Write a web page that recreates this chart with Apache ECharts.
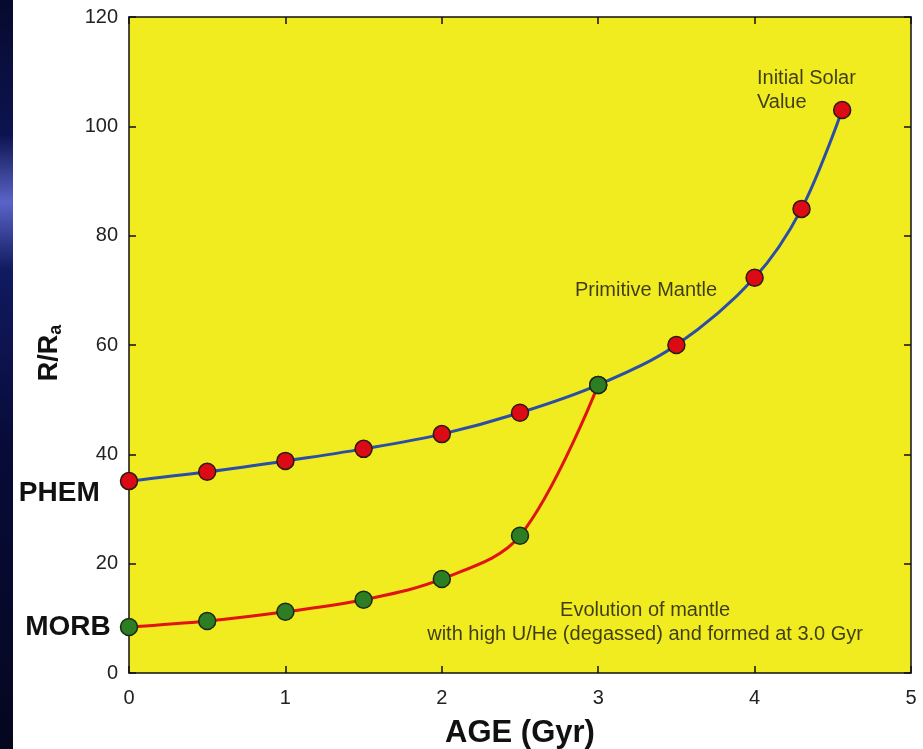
<!DOCTYPE html>
<html><head><meta charset="utf-8">
<script src="https://cdn.jsdelivr.net/npm/echarts@6/dist/echarts.min.js"></script>
<style>html,body{margin:0;padding:0;background:#fff}#c{width:923px;height:749px}</style>
</head><body><div id="c"></div>
<script>
var mantleAges = [0, 0.5, 1, 1.5, 2, 2.5, 3, 3.5, 4, 4.3, 4.56];
var mantleValues = [35.1, 36.8, 38.8, 41.0, 43.7, 47.6, 52.7, 60.0, 72.3, 84.9, 103.0];
var morbAges = [0, 0.5, 1, 1.5, 2, 2.5, 3];
var morbValues = [8.4, 9.5, 11.2, 13.4, 17.2, 25.1, 52.7];
var xTicks = [0, 1, 2, 3, 4, 5];
var yTicks = [0, 20, 40, 60, 80, 100, 120];
var notes = [
  {x: 4.015, y: 106.6, text: 'Initial Solar\nValue', align: 'left'},
  {x: 3.306, y: 69.9, text: 'Primitive Mantle', align: 'center'},
  {x: 3.30, y: 9.3, text: 'Evolution of mantle\nwith high U/He (degassed) and formed at 3.0 Gyr', align: 'center'}
];

function pairs(xs, ys){ return xs.map(function(x,i){ return [x, ys[i]]; }); }

var chart = echarts.init(document.getElementById('c'));
var font = 'Liberation Sans, Arial, sans-serif';
function axisBase(extra){
  return Object.assign({
    type: 'value', min: 0,
    axisLine: {show: true, onZero: false, lineStyle: {color: '#111', width: 1.5}},
    axisTick: {show: true, inside: true, length: 7, lineStyle: {color: '#111', width: 1.5}},
    splitLine: {show: false}
  }, extra);
}
var mantleData = pairs(mantleAges, mantleValues);
mantleData[0] = {value: mantleData[0], label: {show: true, position: 'left', distance: 20, offset: [0, 12], formatter: 'PHEM', fontFamily: font, fontWeight: 'bold', fontSize: 28, color: '#111'}};
var morbData = pairs(morbAges, morbValues);
morbData[0] = {value: morbData[0], label: {show: true, position: 'left', distance: 9, offset: [0, 0], formatter: 'MORB', fontFamily: font, fontWeight: 'bold', fontSize: 28, color: '#111'}};

chart.setOption({
  backgroundColor: '#ffffff',
  animation: false,
  graphic: [{
    type: 'rect', left: 0, top: 0, z: -10,
    shape: {width: 13, height: 749},
    style: {fill: new echarts.graphic.LinearGradient(0, 0, 0, 1, [
      {offset: 0, color: '#070a2e'}, {offset: 0.18, color: '#0c1450'}, {offset: 0.27, color: '#5a64c8'},
      {offset: 0.36, color: '#101a60'}, {offset: 0.6, color: '#080b38'}, {offset: 1, color: '#05071f'}])}
  }],
  grid: {left: 129, right: 12, top: 17, bottom: 76, show: true, backgroundColor: '#F1EC20', borderWidth: 0,
    containLabel: false, outerBoundsMode: 'none'},
  xAxis: [
    axisBase({max: 5, interval: 1, position: 'bottom',
      axisLabel: {fontFamily: font, fontSize: 20, color: '#222', margin: 15, customValues: xTicks},
      name: 'AGE (Gyr)', nameLocation: 'middle', nameGap: 45,
      nameTextStyle: {fontFamily: font, fontWeight: 'bold', fontSize: 31, color: '#111'}}),
    axisBase({max: 5, interval: 1, position: 'top', axisLabel: {show: false}})
  ],
  yAxis: [
    axisBase({max: 120, interval: 20, position: 'left',
      axisLabel: {fontFamily: font, fontSize: 20, color: '#222', margin: 11, customValues: yTicks},
      name: '{m|R/R}{s|a}', nameLocation: 'middle', nameGap: 64, nameRotate: 90,
      nameTextStyle: {padding: [0, 16, 0, 0], rich: {
        m: {fontFamily: font, fontWeight: 'bold', fontSize: 27, color: '#111'},
        s: {fontFamily: font, fontWeight: 'bold', fontSize: 18, color: '#111', padding: [12, 0, 0, 0]}
      }}}),
    axisBase({max: 120, interval: 20, position: 'right', axisLabel: {show: false}})
  ],
  series: [
    {type: 'line', data: mantleData, smooth: 0.35, z: 3,
      lineStyle: {color: '#2b4ea6', width: 3},
      symbol: 'circle', symbolSize: 17,
      itemStyle: {color: '#dc0a14', borderColor: '#2a1a10', borderWidth: 1.5}},
    {type: 'line', data: morbData, smooth: 0.35, z: 4,
      lineStyle: {color: '#e01414', width: 3},
      symbol: 'circle', symbolSize: 17,
      itemStyle: {color: '#2d7d24', borderColor: '#1a2a10', borderWidth: 1.5}},
    {type: 'scatter', symbolSize: 0, z: 5, silent: true,
      data: notes.map(function(n){ return {value: [n.x, n.y], label: {show: true, position: 'inside', formatter: n.text, align: n.align, color: '#111'}}; }),
      label: {fontFamily: font, fontSize: 20, color: '#111', textBorderWidth: 0, lineHeight: 24}}
  ]
});
</script></body></html>
